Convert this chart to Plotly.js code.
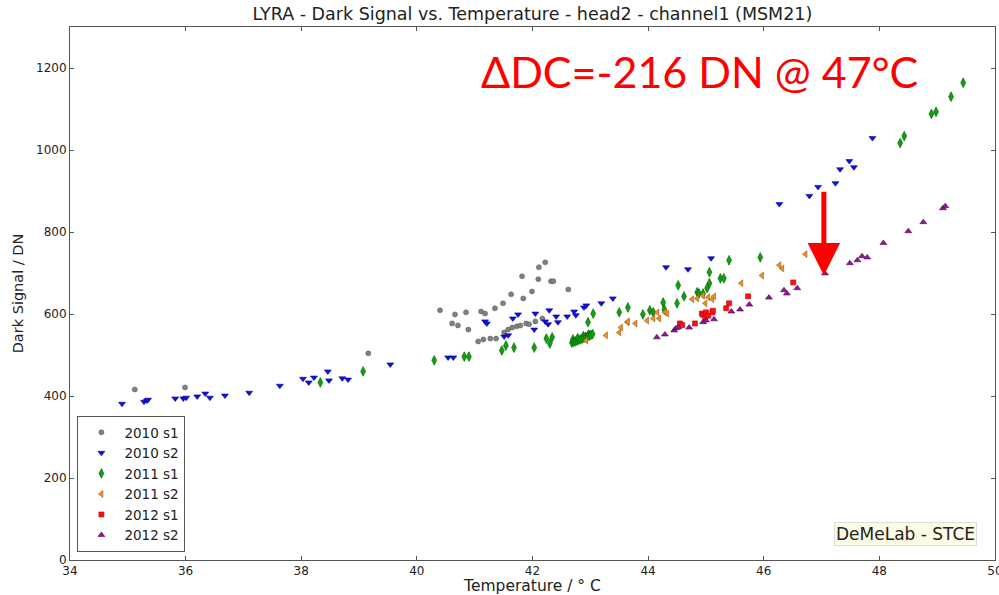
<!DOCTYPE html>
<html>
<head>
<meta charset="utf-8">
<script src="https://cdn.plot.ly/plotly-3.0.1.min.js"></script>
<style>html,body{margin:0;padding:0;background:#fff;}#chart{width:999px;height:595px;}</style>
</head>
<body>
<div id="chart"></div>
<script>
// ---- data ----
var s2010_1_T = [35.12,35.99,39.16,40.40,40.66,40.61,40.71,40.85,40.89,41.11,41.18,41.35,41.49,41.63,41.84,41.82,41.99,42.10,42.11,42.22,42.32,42.36,42.62,
                 41.06,41.15,41.27,41.37,41.51,41.58,41.65,41.73,41.79,41.89,41.94,42.05,42.17];
var s2010_1_DN = [416,421,504,609,599,577,572,604,562,606,601,614,626,648,638,692,655,685,714,726,680,680,660,
                  533,538,540,540,555,562,567,570,572,577,575,582,589];

var s2010_2_T = [34.90,35.28,35.33,35.35,35.82,35.96,36.01,36.20,36.34,36.42,36.68,37.10,37.63,38.03,38.13,38.22,38.46,38.48,38.71,38.81,39.54,
                 40.54,40.63,41.18,41.21,41.51,41.58,41.66,41.75,42.03,42.05,42.22,42.27,42.29,42.41,42.44,42.60,42.72,42.75,42.89,42.93,43.19,43.39,44.31,44.69,45.09,
                 46.27,46.79,46.94,47.24,47.32,47.48,47.56,47.88];
var s2010_2_DN = [381,386,389,391,394,394,396,399,406,396,401,408,425,442,433,445,460,438,443,440,477,
                  494,494,582,577,545,548,589,599,562,601,582,575,609,594,580,594,606,597,616,621,626,638,714,709,736,
                  868,888,910,919,953,973,958,1029];

var s2011_1_T = [38.33,39.07,40.30,40.82,40.90,41.47,41.54,41.68,42.03,42.24,42.30,42.34,
                 42.68,42.70,42.71,42.74,42.77,42.78,42.80,42.83,42.86,42.88,42.89,42.92,42.95,42.97,42.98,43.01,43.04,
                 42.96,43.05,43.50,43.65,43.91,44.03,44.09,44.26,44.28,44.50,44.52,44.62,44.85,44.88,44.95,45.02,45.06,45.06,45.25,45.31,45.40,45.94,
                 48.36,48.43,48.90,48.98,49.24,49.45];
var s2011_1_DN = [433,460,487,496,496,511,523,518,518,540,528,543,
                  530,538,532,533,535,541,537,538,540,546,542,544,545,550,547,549,551,
                  580,601,604,616,599,609,604,628,611,626,670,643,653,650,650,663,675,702,687,687,731,738,
                  1017,1034,1088,1093,1130,1164];

var s2011_2_T = [42.93,43.27,43.50,43.53,43.64,43.65,43.78,43.98,44.09,44.16,44.19,44.29,44.33,44.76,44.85,44.95,45.04,45.11,44.99,45.14,
                 45.61,45.97,46.27,46.32,46.72,46.92];
var s2011_2_DN = [535,548,555,567,580,582,577,584,589,604,589,604,601,636,638,645,641,636,626,643,
                  675,694,719,711,746,760];

var s2012_1_T = [44.55,44.59,44.81,44.93,44.95,44.99,45.00,45.04,45.11,45.12,45.35,45.40,45.73,46.51];
var s2012_1_DN = [577,573,577,601,598,592,604,596,604,608,614,626,643,677];

var s2012_2_T = [44.15,44.29,44.45,44.48,44.52,44.71,44.95,45.00,45.14,45.44,45.59,45.75,46.09,46.35,46.40,46.58,47.06,
                 47.49,47.62,47.70,47.79,48.07,48.50,48.76,49.10,49.14];
var s2012_2_DN = [543,550,560,565,567,567,580,584,587,606,611,623,640,658,650,663,699,
                  724,731,741,738,773,802,824,858,863];

var seriesNames = ['2010 s1','2010 s2','2011 s1','2011 s2','2012 s1','2012 s2'];
var xTicks = [34,36,38,40,42,44,46,48,50];
var yTicks = [0,200,400,600,800,1000,1200];

// ---- styles ----
var styles = [
  {color:'#808080', line:'#606060', symbol:'circle', size:5},
  {color:'#1010e0', line:'#000090', symbol:'triangle-down', size:6},
  {color:'#10a010', line:'#006000', symbol:'diamond-tall', size:7},
  {color:'#e89030', line:'#a06010', symbol:'triangle-left', size:6},
  {color:'#ff1010', line:'#c00000', symbol:'square', size:5},
  {color:'#901890', line:'#500050', symbol:'triangle-up', size:6}
];
var xs = [s2010_1_T,s2010_2_T,s2011_1_T,s2011_2_T,s2012_1_T,s2012_2_T];
var ys = [s2010_1_DN,s2010_2_DN,s2011_1_DN,s2011_2_DN,s2012_1_DN,s2012_2_DN];

var traces = xs.map(function(x,i){
  return {
    type:'scatter', mode:'markers', name:seriesNames[i], x:x, y:ys[i],
    marker:{symbol:styles[i].symbol, size:styles[i].size, color:styles[i].color,
            line:{color:styles[i].line, width:0.6}}
  };
});

var fontFam = 'DejaVu Sans, sans-serif';
var layout = {
  width:999, height:595,
  margin:{l:70, r:4, t:27, b:35},
  paper_bgcolor:'#fff', plot_bgcolor:'#fff',
  font:{family:fontFam, size:12, color:'#222'},
  title:{text:'LYRA - Dark Signal vs. Temperature - head2 - channel1 (MSM21)',
         font:{family:fontFam, size:17.5, color:'#222'}, x:0.533, xanchor:'center', y:0.976, yanchor:'middle'},
  showlegend:true,
  legend:{x:0.008, y:0.015, xanchor:'left', yanchor:'bottom', bordercolor:'#555', borderwidth:1,
          bgcolor:'#fff', font:{family:fontFam, size:13.5, color:'#222'}, tracegroupgap:0, itemwidth:36},
  xaxis:{range:[34,50], tickvals:xTicks, ticktext:xTicks.map(String), ticks:'inside', ticklen:4, tickcolor:'#555',
         showline:true, linecolor:'#555', linewidth:1, mirror:'ticks', showgrid:false, zeroline:false,
         ticklabeloverflow:'allow',
         tickfont:{size:12, color:'#222'},
         title:{text:'Temperature / \u00b0 C', font:{size:15.5, color:'#222'}, standoff:2}},
  yaxis:{range:[0,1300], tickvals:yTicks, ticktext:yTicks.map(String), ticks:'inside', ticklen:4, tickcolor:'#555',
         showline:true, linecolor:'#555', linewidth:1, mirror:'ticks', showgrid:false, zeroline:false,
         tickfont:{size:12, color:'#222'},
         title:{text:'Dark Signal / DN', font:{size:14.5, color:'#222'}, standoff:8}},
  annotations:[
    {xref:'paper', yref:'paper', x:0.68, y:0.916, xanchor:'center', yanchor:'middle', showarrow:false,
     text:'\u0394DC=-216 DN @ 47\u00b0C', font:{family:'Lato, Open Sans, sans-serif', size:43, color:'#ff0000'}},
    {xref:'paper', yref:'paper', x:0.981, y:0.027, xanchor:'right', yanchor:'bottom', showarrow:false,
     text:'DeMeLab - STCE', font:{family:fontFam, size:17, color:'#222'},
     bgcolor:'#fbfbe6', bordercolor:'#dddddd', borderwidth:1, borderpad:1},
    {xref:'x', yref:'y', x:47.04, y:694, axref:'x', ayref:'y', ax:47.04, ay:902, showarrow:true,
     arrowhead:2, arrowsize:1.3, arrowwidth:5, arrowcolor:'#ff0000', text:''}
  ]
};

Plotly.newPlot('chart', traces, layout, {displayModeBar:false, staticPlot:true});
</script>
</body>
</html>
